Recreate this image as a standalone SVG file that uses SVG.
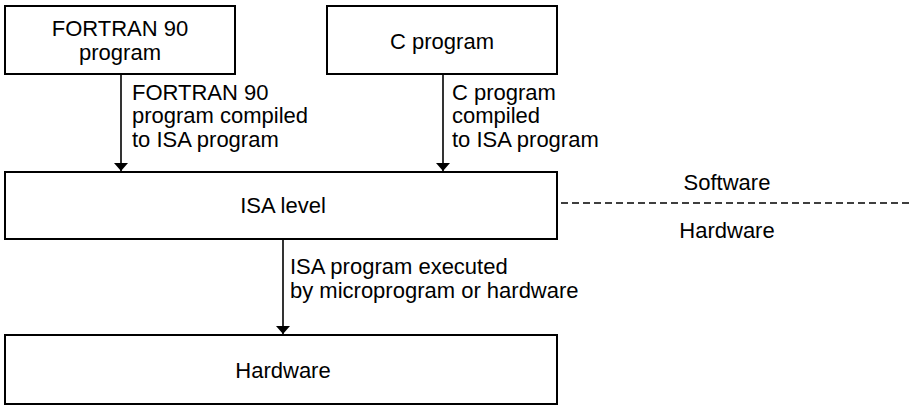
<svg xmlns="http://www.w3.org/2000/svg" width="909" height="405" viewBox="0 0 909 405">
<style>
.box{fill:#fff;stroke:#000;stroke-width:2}
.t{font-family:"Liberation Sans",Arial,sans-serif;font-size:22px;fill:#000}
.c{text-anchor:middle}
.ln{stroke:#000;stroke-width:1.6;fill:none}
</style>
<defs>
<marker id="ah" viewBox="0 0 8 14" refX="8" refY="7" markerWidth="8" markerHeight="14" markerUnits="userSpaceOnUse" orient="auto">
<path d="M0,0 L8,7 L0,14 Z" fill="#000"/>
</marker>
</defs>
<rect width="909" height="405" fill="#fff"/>
<g id="fortran">
<rect class="box" x="5" y="6" width="230" height="68"/>
<text class="t c" x="120" y="36">FORTRAN 90</text>
<text class="t c" x="120" y="60">program</text>
</g>
<g id="cprog">
<rect class="box" x="327" y="6" width="230" height="68"/>
<text class="t c" x="442" y="49">C program</text>
</g>
<g id="isa">
<rect class="box" x="5" y="172" width="552" height="67"/>
<text class="t c" x="283" y="213">ISA level</text>
</g>
<g id="hardware">
<rect class="box" x="5" y="335" width="552" height="69"/>
<text class="t c" x="283" y="378">Hardware</text>
</g>
<g id="connectors">
<line class="ln" x1="121" y1="75" x2="121" y2="171" marker-end="url(#ah)"/>
<line class="ln" x1="443" y1="75" x2="443" y2="171" marker-end="url(#ah)"/>
<line class="ln" x1="283" y1="240" x2="283" y2="334" marker-end="url(#ah)"/>
<line class="ln" x1="561" y1="203" x2="909" y2="203" stroke-dasharray="7,4"/>
</g>
<g id="labels">
<text class="t" x="132" y="100">FORTRAN 90</text>
<text class="t" x="132" y="123">program compiled</text>
<text class="t" x="132" y="147">to ISA program</text>
<text class="t" x="452" y="100">C program</text>
<text class="t" x="452" y="123">compiled</text>
<text class="t" x="452" y="147">to ISA program</text>
<text class="t" x="290" y="274">ISA program executed</text>
<text class="t" x="290" y="298">by microprogram or hardware</text>
<text class="t c" x="727" y="190">Software</text>
<text class="t c" x="727" y="238">Hardware</text>
</g>
</svg>
